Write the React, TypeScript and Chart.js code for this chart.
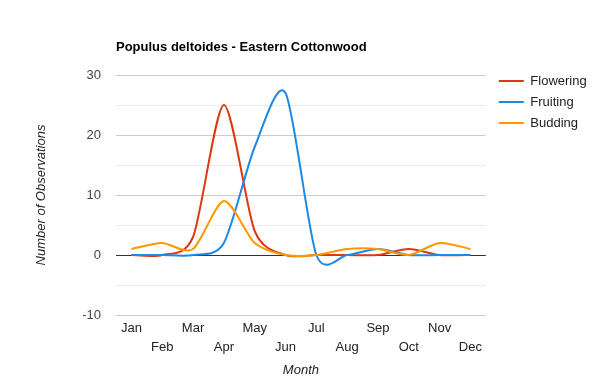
import React, { useEffect, useRef } from "react";
import { Chart, registerables } from "chart.js";

Chart.register(...registerables);

const months = ["Jan", "Feb", "Mar", "Apr", "May", "Jun", "Jul", "Aug", "Sep", "Oct", "Nov", "Dec"];
const flowering = [0, 0, 3, 25, 4, 0, 0, 0, 0, 1, 0, 0];
const fruiting = [0, 0, 0, 2, 18, 27, 0, 0, 1, 0, 0, 0];
const budding = [1, 2, 1, 9, 2, 0, 0, 1, 1, 0, 2, 1];
const seriesNames = ["Flowering", "Fruiting", "Budding"];
const seriesColors = ["#dc3912", "#1e88e5", "#ff9800"];
const titleText = "Populus deltoides - Eastern Cottonwood";
const xTitle = "Month";
const yTitle = "Number of Observations";

const FONT = 'Arial, "Liberation Sans", sans-serif';
const SMOOTH = 0.8;

// Re-computes the bezier control points of each line as a uniform
// (Catmull-Rom style) spline, scaled by SMOOTH.
const smoothPlugin = {
  id: "uniformSmooth",
  beforeDatasetDraw(chart: any, args: any) {
    const meta = args.meta;
    const line = meta.dataset;
    if (!line) return;
    if (typeof line.updateControlPoints === "function") {
      line.updateControlPoints(chart.chartArea, meta.indexAxis);
    }
    const pts = meta.data;
    const k = SMOOTH / 6;
    for (let i = 0; i < pts.length; i++) {
      const cur = pts[i];
      const prev = pts[i - 1] || cur;
      const next = pts[i + 1] || cur;
      const tx = (next.x - prev.x) * k;
      const ty = (next.y - prev.y) * k;
      cur.cp1x = cur.x - tx;
      cur.cp1y = cur.y - ty;
      cur.cp2x = cur.x + tx;
      cur.cp2y = cur.y + ty;
    }
    line._pointsUpdated = true;
    line._path = undefined;
  },
};

export default function App() {
  const ref = useRef<HTMLCanvasElement | null>(null);

  useEffect(() => {
    if (!ref.current) return;
    Chart.defaults.font.family = FONT;
    const values = [flowering, fruiting, budding];
    const chart = new Chart(ref.current, {
      type: "line",
      plugins: [smoothPlugin],
      data: {
        labels: months,
        datasets: values.map((v, i) => ({
          label: seriesNames[i],
          data: v,
          borderColor: seriesColors[i],
          backgroundColor: seriesColors[i],
          borderWidth: 2,
          pointRadius: 0,
          tension: 0.4,
          fill: false,
          order: 3 - i,
        })),
      },
      options: {
        responsive: false,
        animation: false,
        layout: { padding: { left: 0, right: 11, top: 0, bottom: 0 } },
        plugins: {
          tooltip: { enabled: false },
          title: {
            display: true,
            text: titleText,
            align: "start",
            fullSize: false,
            color: "#000",
            font: { size: 13, weight: "bold", family: FONT },
            padding: { top: 40, bottom: 19.4 },
          },
          legend: {
            display: true,
            position: "right",
            align: "start",
            fullSize: true,
            title: { display: true, text: "", padding: { top: 50.9, bottom: 0 }, font: { size: 13 } },
            labels: {
              boxWidth: 25,
              boxHeight: 2,
              padding: 8,
              color: "#222",
              font: { size: 13, family: FONT },
              sort: (a: any, b: any) => a.datasetIndex - b.datasetIndex,
              generateLabels: (c: any) =>
                Chart.defaults.plugins.legend.labels
                  .generateLabels(c)
                  .map((l: any) => ({ ...l, lineWidth: 0, fillStyle: l.strokeStyle })),
            },
          },
        },
        scales: {
          x: {
            type: "category",
            offset: true,
            grid: { display: false, drawTicks: false },
            border: { display: false },
            ticks: {
              autoSkip: false,
              maxRotation: 0,
              minRotation: 0,
              padding: 3.5,
              color: "#222",
              font: { size: 13, family: FONT, lineHeight: 19 / 13 },
              callback: (_v: any, i: number) => (i % 2 === 0 ? months[i] : ["", months[i]]),
            },
            title: {
              display: true,
              text: xTitle,
              color: "#222",
              font: { size: 13, style: "italic", family: FONT },
              padding: { top: 0, bottom: 12 },
            },
            afterFit: (s: any) => {
              s.height = 75;
            },
          },
          y: {
            min: -10,
            max: 30,
            ticks: {
              stepSize: 5,
              padding: 15,
              color: "#444",
              font: { size: 13, family: FONT },
              callback: (v: any) => (Number(v) % 10 === 0 ? String(v) : ""),
            },
            grid: {
              drawTicks: false,
              color: (ctx: any) => {
                const v = ctx.tick ? ctx.tick.value : 1;
                if (v === 0) return "#333";
                return v % 10 === 0 ? "#cccccc" : "#ebebeb";
              },
              lineWidth: 1,
            },
            border: { display: false },
            title: {
              display: true,
              text: yTitle,
              color: "#222",
              font: { size: 13, style: "italic", family: FONT },
              padding: { top: 34, bottom: 0 },
            },
            afterFit: (s: any) => {
              s.width = 116;
            },
          },
          y2: {
            position: "right",
            display: true,
            grid: { display: false, drawTicks: false },
            border: { display: false },
            ticks: { display: false },
            afterFit: (s: any) => {
              s.width = 5;
            },
          },
        },
      } as any,
    });
    return () => chart.destroy();
  }, []);

  return (
    <div style={{ position: "absolute", left: 0, top: 0, width: 600, height: 390, background: "#fff" }}>
      <canvas ref={ref} width={600} height={390} />
    </div>
  );
}
